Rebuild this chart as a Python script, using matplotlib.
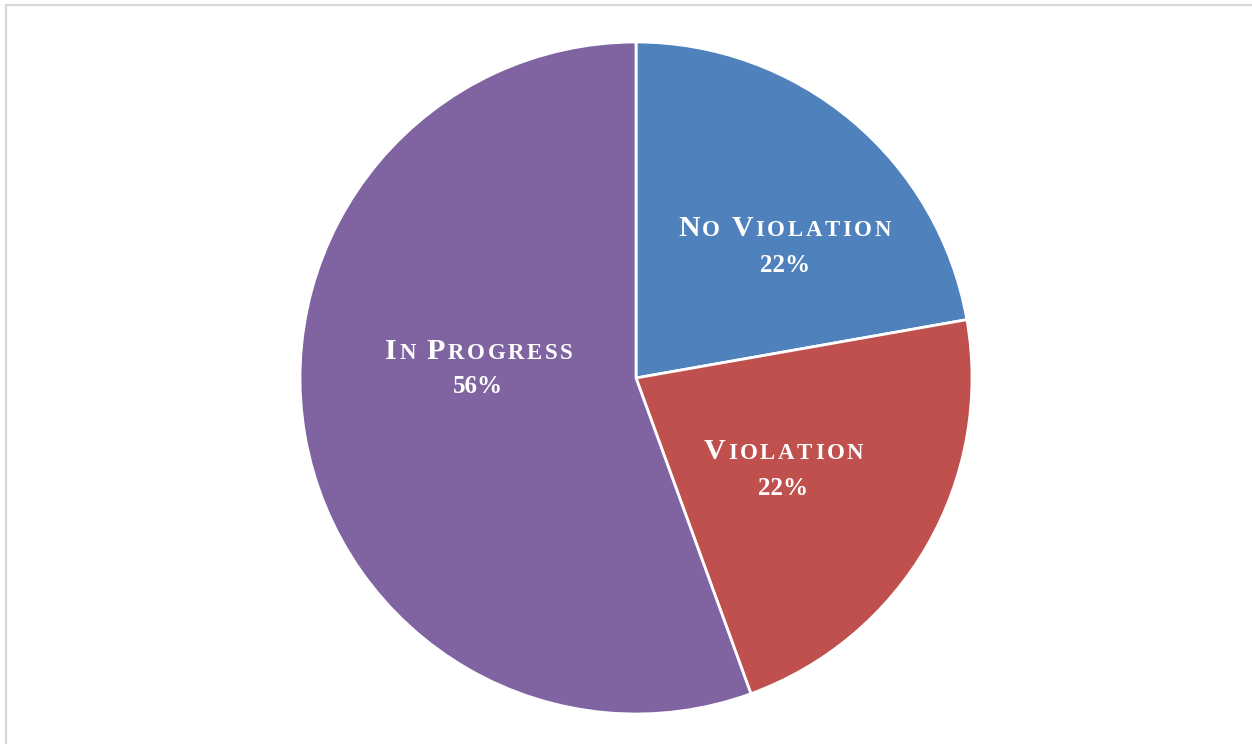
import matplotlib
matplotlib.use("Agg")
import matplotlib.pyplot as plt
from matplotlib.offsetbox import TextArea, HPacker, AnnotationBbox
from matplotlib.patches import Rectangle

categories = ["No Violation", "Violation", "In Progress"]
counts = [2, 2, 5]
colors = ["#4F81BD", "#C0504D", "#8064A2"]
# label block centres (relative to pie radius), title line and percent line
title_pos = [(0.442, 0.446), (0.439, -0.220), (-0.467, 0.080)]
pct_pos = [(0.444, 0.336), (0.439, -0.328), (-0.470, -0.024)]

W, H = 1252, 744
fig = plt.figure(figsize=(W / 100, H / 100), dpi=100)
fig.patch.set_facecolor("white")
fig.patches.append(Rectangle((5.5 / W, -0.1), 1.5, (H - 4.5) / H + 0.1,
                             transform=fig.transFigure, fill=False,
                             edgecolor="#d9d9d9", linewidth=1.6))

cx, cy, r = 636, 378, 336
ax = fig.add_axes([(cx - r) / W, (H - cy - r) / H, 2 * r / W, 2 * r / H])
wedges, _ = ax.pie(counts, colors=colors, startangle=90, counterclock=False,
                   radius=1, wedgeprops=dict(edgecolor="white", linewidth=2.0))
ax.set_xlim(-1, 1)
ax.set_ylim(-1, 1)
ax.set_aspect("equal")
ax.axis("off")

FONT = "Liberation Serif"
BIG, SMALL, PCT = 21.5, 16.5, 18


def small_caps(text):
    children = []
    for wi, word in enumerate(text.split(" ")):
        if wi > 0:
            children.append(TextArea(" ", textprops=dict(fontsize=SMALL, family=FONT)))
        for ci, ch in enumerate(word):
            size = BIG if ci == 0 else SMALL
            children.append(TextArea(ch.upper(), textprops=dict(
                fontsize=size, family=FONT, fontweight="bold", color="white")))
    return HPacker(children=children, align="baseline", pad=0, sep=1.9)


total = sum(counts)
for name, c, tp, pp in zip(categories, counts, title_pos, pct_pos):
    ab = AnnotationBbox(small_caps(name), tp, xycoords="data", frameon=False,
                        box_alignment=(0.5, 0.5), pad=0)
    ax.add_artist(ab)
    ax.text(pp[0], pp[1], f"{round(100 * c / total)}%", ha="center", va="center",
            fontsize=PCT, family=FONT, fontweight="bold", color="white")

fig.savefig("out.png", dpi=100)
